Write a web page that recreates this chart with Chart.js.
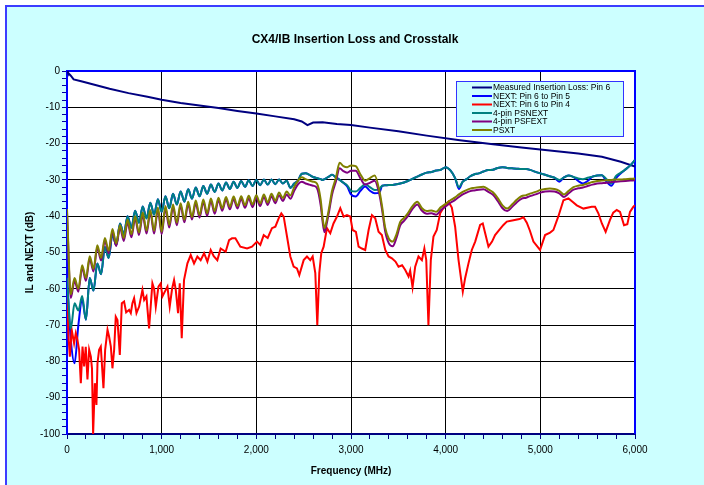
<!DOCTYPE html>
<html>
<head>
<meta charset="utf-8">
<title>CX4/IB Insertion Loss and Crosstalk</title>
<script src="https://cdn.jsdelivr.net/npm/chart.js@4.4.1/dist/chart.umd.min.js"></script>
<style>
  html, body { margin: 0; padding: 0; background: #ffffff; }
  canvas { display: block; }
</style>
</head>
<body>
<canvas id="chart" width="704" height="485"></canvas>
<script>
// ---- Axis tick labels ----
const freqTicks = [0, 1000, 2000, 3000, 4000, 5000, 6000];
const dbTicks = [0, -10, -20, -30, -40, -50, -60, -70, -80, -90, -100];

// ---- Measured insertion loss, pin 6 ----
const fIL = [0, 10, 40, 70, 150, 250, 450, 650, 850, 1000, 1200, 1400, 1600, 1800, 2000, 2200, 2400, 2480, 2540, 2600, 2700, 2850, 3000, 3200, 3500, 3800, 4150, 4500, 4800, 5100, 5400, 5650, 5850, 6000];
const insLoss = [0, -0.5, -1.3, -2.3, -2.8, -3.5, -4.9, -6.1, -7.1, -7.9, -8.8, -9.5, -10.2, -11, -11.7, -12.5, -13.3, -13.9, -14.9, -14.2, -14.1, -14.6, -14.9, -15.6, -16.6, -17.8, -19.1, -20.2, -21.1, -21.9, -22.7, -23.6, -25, -26.3];

// ---- Frequency points of the crosstalk sweeps (MHz) ----
const fXT = [0, 40, 80, 120, 160, 200, 240, 280, 320, 360, 400, 440, 480, 520, 560, 600, 640, 680, 720, 760, 800, 840, 880, 920, 960, 1000, 1040, 1080, 1120, 1160, 1200, 1240, 1280, 1320, 1360, 1400, 1440, 1480, 1520, 1560, 1600, 1640, 1680, 1720, 1760, 1800, 1840, 1880, 1920, 1960, 2000, 2040, 2080, 2120, 2160, 2200, 2240, 2280, 2320, 2360, 2400,
  2440, 2480, 2520, 2560, 2600, 2640, 2680, 2700, 2720, 2740, 2770, 2800, 2840, 2880, 2920, 2960, 3000, 3050, 3100, 3150, 3200, 3250, 3300, 3330, 3360, 3400, 3440, 3480, 3520, 3560, 3600, 3650, 3700, 3750, 3800, 3850, 3900, 3950, 4000, 4050, 4100, 4140, 4180, 4220, 4260, 4300, 4350, 4400, 4450, 4500, 4550, 4600, 4650, 4700, 4750, 4800, 4850, 4900, 4950, 5000, 5050, 5100, 5150, 5200, 5250, 5300, 5350, 5400, 5450, 5500, 5550, 5600, 5650, 5700, 5750, 5800, 5850, 5900, 5950, 6000];

// NEXT: Pin 6 to Pin 5
const next56 = [-57, -74, -80.5, -70, -63, -68.5, -57, -60.5, -53, -56,
  -48.5, -51.5, -45, -48, -42, -45, -40, -43.2, -38.5, -41.8,
  -37.3, -40.6, -36.3, -39.6, -35.3, -38.8, -34.5, -37.8, -33.8, -36.8,
  -33.2, -36, -32.6, -35.2, -32.1, -34.5, -31.7, -33.8, -31.3, -33.3,
  -31, -32.9, -30.7, -32.5, -30.5, -32.2, -30.3, -31.9, -30.1, -31.7,
  -30, -31.5, -29.9, -31.3, -29.9, -31.2, -29.9, -31, -30.2, -32.2,
  -31,
  -30.2, -28.3, -28.2, -28.6, -29.2, -29.5, -29.8, -30, -29.8, -29.5,
  -29, -28.6, -29.3, -30, -30.8, -31.8, -34, -34.6, -33, -31.8,
  -33, -33.7, -33.5, -31.6, -31.5, -31.4, -31.4, -31.2, -31, -30.7,
  -30.3, -29.7, -29.1, -28.5, -28, -27.8, -27.4, -27.2, -26.5, -27.4,
  -29.5, -32.5, -30.5, -29.8, -29, -28.5, -28.2, -27.7, -27.3, -27.2,
  -26.7, -26.5, -26.7, -26.8, -26.9, -27, -27, -27.3, -27.8, -28.2,
  -28.6, -29, -29.4, -30.5, -29.3, -28.8, -29.2, -30.3, -31, -30.3,
  -29.1, -28.8, -28.7, -30.5, -31.6, -29.5, -28.2, -27.1, -26, -24.5];

// 4-pin PSNEXT
const psnext = [-57, -71, -64, -66, -62, -68.5, -57, -60.5, -53, -56,
  -48.5, -51.5, -45, -48, -42, -45, -40, -43.2, -38.5, -41.8,
  -37.3, -40.6, -36.3, -39.6, -35.3, -38.8, -34.5, -37.8, -33.8, -36.8,
  -33.2, -36, -32.6, -35.2, -32.1, -34.5, -31.7, -33.8, -31.3, -33.3,
  -31, -32.9, -30.7, -32.5, -30.5, -32.2, -30.3, -31.9, -30.1, -31.7,
  -30, -31.5, -29.9, -31.3, -29.9, -31.2, -29.9, -31, -30.2, -32.2,
  -31,
  -30.2, -28.3, -28.2, -28.6, -29.2, -29.5, -29.8, -30, -29.8, -29.5,
  -29, -28.6, -29.3, -30, -30.8, -31.5, -33, -33.2, -32.2, -31.2,
  -32, -32.8, -32.5, -31.6, -31.5, -31.4, -31.4, -31.2, -31, -30.7,
  -30.3, -29.7, -29.1, -28.5, -28, -27.8, -27.4, -27.2, -26.5, -27.4,
  -29.5, -32, -30.5, -29.8, -29, -28.5, -28.2, -27.7, -27.3, -27.2,
  -26.7, -26.5, -26.7, -26.8, -26.9, -27, -27, -27.3, -27.8, -28.2,
  -28.6, -29, -29.4, -30, -29.3, -28.8, -29.2, -29.6, -29.8, -29.4,
  -29.1, -28.8, -28.7, -29.8, -31, -28.9, -28, -27.1, -26, -24.5];

// 4-pin PSFEXT
const psfext = [-39, -62.5, -57.8, -60.8, -54.2, -57.8, -51.7, -55.2, -48.7, -52.2,
  -46.7, -50.2, -44.2, -48.2, -43.2, -46.8, -41.7, -45.8, -40.7, -45.2,
  -39.7, -44.8, -39, -44.8, -38.3, -45, -37.9, -43.1, -37.5, -42.5,
  -37.1, -41.7, -36.7, -40.9, -36.4, -40.4, -36.1, -39.9, -35.8, -39.3,
  -35.6, -38.5, -35.4, -38.1, -35.3, -37.9, -35.2, -37.7, -35.1, -37.5,
  -34.9, -37.2, -34.7, -36.9, -34.5, -36.4, -34.2, -35.8, -34, -35.2,
  -33,
  -31.2, -30.5, -31, -31.3, -31.6, -32.2, -37, -41.5, -44.4, -42.5,
  -38.5, -34, -30.5, -26.8, -27.6, -28, -27.5, -27.5, -29.6, -31.3,
  -30.8, -30.2, -34, -38.5, -44, -47.5, -48.3, -46, -42.5, -41.3,
  -40, -38, -36.8, -38.5, -39.3, -39.2, -39.6, -38.3, -37.3, -36.3,
  -35.5, -34.7, -34, -33.5, -33.1, -32.9, -32.7, -32.6, -33.3, -34.1,
  -35.8, -37.8, -38.6, -37.5, -36.2, -35.2, -34.9, -34.4, -34, -33.5,
  -33.2, -33.1, -33.2, -33.7, -34.7, -33.7, -32.7, -32.3, -32.1, -31.7,
  -31.3, -31, -30.9, -30.8, -30.6, -30.5, -30.4, -30.3, -30.2, -30.1];

// PSXT
const psxt = [-38, -61.5, -57, -60, -53.5, -57, -51, -54.5, -48, -51.5,
  -46, -49.5, -43.5, -47.5, -42.5, -46, -41, -45, -40, -44.5,
  -39, -44, -38.3, -44, -37.6, -44.3, -37.2, -42.4, -36.8, -41.8,
  -36.4, -41, -36, -40.2, -35.7, -39.7, -35.4, -39.2, -35.1, -38.6,
  -34.9, -37.8, -34.7, -37.4, -34.6, -37.2, -34.5, -37, -34.4, -36.8,
  -34.2, -36.5, -34, -36.2, -33.8, -35.7, -33.5, -35, -33.2, -34.3,
  -32,
  -30.2, -29.3, -29.8, -30.2, -30.5, -31, -35.5, -40.5, -43.3, -41.5,
  -37.5, -33, -29.5, -25.3, -26.2, -26.5, -26, -26.2, -28.5, -30.2,
  -29.5, -28.8, -33, -37.6, -43, -46.2, -47, -45, -41.6, -40.5,
  -39.2, -37.2, -36, -37.8, -38.6, -38.4, -38.8, -37.5, -36.6, -35.6,
  -34.8, -34, -33.3, -32.8, -32.4, -32.2, -32, -31.9, -32.6, -33.4,
  -35, -37, -37.9, -36.8, -35.5, -34.5, -34.2, -33.7, -33.3, -32.8,
  -32.5, -32.4, -32.5, -33, -34, -33, -32, -31.6, -31.4, -31,
  -30.6, -30.3, -30.2, -30.1, -30, -29.9, -29.9, -29.8, -29.7, -29.6];

// ---- NEXT: Pin 6 to Pin 4 ----
const fRed = [0, 15, 30, 50, 75, 93, 110, 128, 146, 164,
  181, 198, 216, 234, 252, 264, 276, 294, 311, 322,
  339, 357, 385, 403, 428, 445, 463, 480, 498, 515,
  533, 558, 579, 603, 625, 656, 674, 691, 709, 734,
  762, 797, 815, 839, 867, 902, 920, 938, 966, 990,
  1008, 1043, 1061, 1085, 1110, 1131, 1149, 1173, 1191, 1212,
  1236, 1272, 1307, 1342, 1377, 1412, 1448, 1483, 1518, 1550,
  1588, 1623, 1676, 1712, 1743, 1779, 1831, 1902, 1954, 2007,
  2042, 2078, 2120, 2165, 2201, 2236, 2264, 2289, 2324, 2359,
  2394, 2429, 2454, 2500, 2535, 2570, 2595, 2623, 2644, 2665,
  2686, 2711, 2746, 2781, 2815, 2852, 2887, 2922, 2957, 2992,
  3017, 3052, 3080, 3115, 3150, 3186, 3221, 3256, 3291, 3326,
  3362, 3397, 3432, 3470, 3502, 3540, 3573, 3608, 3625, 3650,
  3678, 3713, 3749, 3775, 3795, 3818, 3843, 3871, 3906, 3942,
  3994, 4030, 4065, 4100, 4136, 4181, 4206, 4241, 4276, 4312,
  4364, 4392, 4420, 4452, 4490, 4522, 4560, 4610, 4646, 4716,
  4780, 4822, 4857, 4890, 4927, 4997, 5050, 5103, 5138, 5191,
  5244, 5297, 5340, 5385, 5455, 5543, 5578, 5613, 5650, 5690,
  5736, 5770, 5807, 5842, 5884, 5919, 5947, 5983, 6000];
const next64 = [-60, -73, -78.7, -71.3, -75, -72.2, -74, -76.8, -86, -75.9,
  -81.4, -76, -85, -76.8, -78.7, -82, -100, -86, -92, -80.5,
  -76.8, -75.9, -87.4, -76.8, -71.3, -73.2, -75.9, -81.9, -76.8, -67.7,
  -68.6, -78.2, -64, -63.5, -66.5, -65.8, -66.7, -64, -62.6, -66.7,
  -64.9, -60.3, -63.1, -62.1, -70.9, -58.5, -60, -64.9, -59.4, -58.5,
  -62.1, -60.3, -59.4, -64.9, -60, -57.6, -60.3, -66.7, -58.5, -73.6,
  -57.6, -53, -50.7, -53, -51.1, -52.1, -50.2, -52.5, -49.3, -51,
  -52.1, -48.9, -49.8, -46.6, -46.1, -46.1, -48.4, -48.9, -48.4, -47,
  -47.9, -45.2, -46, -43.3, -42.9, -40.6, -39.2, -40.1, -45.6, -51.1,
  -53.9, -54.4, -56.2, -52.1, -51.1, -52.1, -51.1, -55.7, -70, -55.7,
  -50.2, -48.4, -43.3, -44.7, -42, -40.1, -37.8, -40.1, -39.7, -40.1,
  -43.8, -44.3, -48.4, -48.9, -49.3, -43.8, -39.7, -40.6, -44.3, -45.2,
  -49.3, -51.1, -51.6, -52.5, -53.9, -53.5, -54.8, -56.6, -55, -59.6,
  -53.9, -51.1, -52.1, -48.9, -52.1, -70, -52.1, -45.6, -43.8, -39.2,
  -36.9, -36, -37.6, -42.9, -52.1, -60.8, -57, -53, -49.3, -47,
  -42.4, -42, -45, -48.4, -47, -45.2, -44, -42.4, -41.5, -41.1,
  -40.8, -40.3, -41.8, -44, -47, -49.3, -45.2, -44.5, -43.8, -40,
  -35.6, -35.1, -36, -37, -37.9, -37.4, -37.4, -39.2, -42, -44.3,
  -41, -39, -38.3, -38.8, -42.5, -42.2, -38.8, -37.4, -37];

// ---- Series names and colours ----
const seriesNames = ['Measured Insertion Loss: Pin 6', 'NEXT: Pin 6 to Pin 5', 'NEXT: Pin 6 to Pin 4', '4-pin PSNEXT', '4-pin PSFEXT', 'PSXT'];
const seriesColors = ['#000080', '#0000ff', '#ff0000', '#008080', '#800080', '#808000'];

const FONT = '"Liberation Sans", Arial, Helvetica, sans-serif';

function pairs(xs, ys) {
  return xs.map((x, i) => ({ x: x, y: ys[i] }));
}
function isMultiple(v, m) {
  const r = Math.round(v);
  return Math.abs(v - r) < 1e-6 && r % m === 0;
}
function withCommas(v) {
  return String(Math.round(v)).replace(/\B(?=(\d{3})+(?!\d))/g, ',');
}

const seriesData = [
  pairs(fIL, insLoss),
  pairs(fXT, next56),
  pairs(fRed, next64),
  pairs(fXT, psnext),
  pairs(fXT, psfext),
  pairs(fXT, psxt)
];

// Sweeps with the periodic ripple get a smooth (monotone) curve through their points
const smoothSweep = [false, true, false, true, true, true];

// Later series sit on top
const datasets = seriesNames.map((name, i) => ({
  label: name,
  data: seriesData[i],
  borderColor: seriesColors[i],
  backgroundColor: seriesColors[i],
  borderWidth: 2,
  pointRadius: 0,
  tension: 0,
  cubicInterpolationMode: smoothSweep[i] ? 'monotone' : 'default',
  fill: false,
  order: seriesNames.length - i
}));

// Background, frame, titles and the in-plot legend
const decorations = {
  id: 'decorations',
  beforeDraw(chart) {
    const { ctx, chartArea: a } = chart;
    ctx.save();
    ctx.fillStyle = '#ffffff';
    ctx.fillRect(0, 0, chart.width, chart.height);
    ctx.fillStyle = '#ccffff';
    ctx.fillRect(6, 6, chart.width - 6, chart.height - 6);
    ctx.strokeStyle = '#3c3cff';
    ctx.lineWidth = 2;
    ctx.beginPath();
    ctx.moveTo(6, chart.height);
    ctx.lineTo(6, 6);
    ctx.lineTo(chart.width, 6);
    ctx.stroke();
    ctx.fillStyle = '#ffffff';
    ctx.fillRect(a.left, a.top, a.right - a.left, a.bottom - a.top);
    ctx.restore();
  },
  beforeDatasetsDraw(chart) {
    const { ctx, chartArea: a } = chart;
    ctx.save();
    ctx.strokeStyle = '#0000ff';
    ctx.lineWidth = 2;
    ctx.beginPath();
    ctx.moveTo(a.left, a.top);
    ctx.lineTo(a.right, a.top);
    ctx.lineTo(a.right, a.bottom);
    ctx.stroke();
    ctx.restore();
  },
  afterDraw(chart) {
    const { ctx, chartArea: a } = chart;
    ctx.save();
    ctx.fillStyle = '#000000';
    ctx.textAlign = 'center';
    ctx.textBaseline = 'middle';

    ctx.font = 'bold 12px ' + FONT;
    ctx.fillText('CX4/IB Insertion Loss and Crosstalk', 355, 40);

    ctx.font = 'bold 10px ' + FONT;
    ctx.fillText('Frequency (MHz)', (a.left + a.right) / 2, 471);

    ctx.save();
    ctx.translate(30, (a.top + a.bottom) / 2);
    ctx.rotate(-Math.PI / 2);
    ctx.fillText('IL and NEXT (dB)', 0, 0);
    ctx.restore();

    // legend box
    const lx = 456, ly = 81, lw = 167, lh = 55;
    ctx.fillStyle = '#ccffff';
    ctx.fillRect(lx, ly, lw, lh);
    ctx.strokeStyle = '#3333ff';
    ctx.lineWidth = 1;
    ctx.strokeRect(lx + 0.5, ly + 0.5, lw, lh);
    ctx.font = '8.5px ' + FONT;
    ctx.textAlign = 'left';
    seriesNames.forEach((name, i) => {
      const y = 87.5 + i * 8.5;
      ctx.strokeStyle = seriesColors[i];
      ctx.lineWidth = 2;
      ctx.beginPath();
      ctx.moveTo(472, y);
      ctx.lineTo(492, y);
      ctx.stroke();
      ctx.fillStyle = '#000000';
      ctx.fillText(name, 493, y + 0.5);
    });
    ctx.restore();
  }
};

new Chart(document.getElementById('chart'), {
  type: 'line',
  data: { datasets: datasets },
  plugins: [decorations],
  options: {
    responsive: false,
    animation: false,
    devicePixelRatio: 1,
    layout: { padding: { left: 0, right: 69, top: 71, bottom: 21 } },
    plugins: {
      legend: { display: false },
      title: { display: false },
      tooltip: { enabled: false }
    },
    scales: {
      x: {
        type: 'linear',
        min: 0,
        max: 6000,
        afterFit(scale) { scale.height = 30; },
        border: { color: '#000080', width: 2 },
        grid: {
          color: (c) => (c.tick && isMultiple(c.tick.value, 1000) ? '#000000' : 'rgba(0,0,0,0)'),
          lineWidth: 1,
          tickColor: '#000080',
          tickLength: 5
        },
        ticks: {
          stepSize: 200,
          autoSkip: false,
          maxRotation: 0,
          padding: 5,
          color: '#000000',
          font: { family: FONT, size: 10 },
          callback: (v) => (freqTicks.some(t => Math.abs(t - v) < 1e-6) ? withCommas(v) : '')
        }
      },
      y: {
        min: -100,
        max: 0,
        afterFit(scale) { scale.width = 67; },
        border: { color: '#0000ff', width: 2 },
        grid: {
          color: (c) => (c.tick && isMultiple(c.tick.value, 10) ? '#000000' : 'rgba(0,0,0,0)'),
          lineWidth: 1,
          tickColor: '#0000a0',
          tickLength: 5
        },
        ticks: {
          stepSize: 2,
          autoSkip: false,
          padding: 2,
          color: '#000000',
          font: { family: FONT, size: 10 },
          callback: (v) => (dbTicks.some(t => Math.abs(t - v) < 1e-6) ? String(Math.round(v)) : '')
        }
      }
    }
  }
});
</script>
</body>
</html>
